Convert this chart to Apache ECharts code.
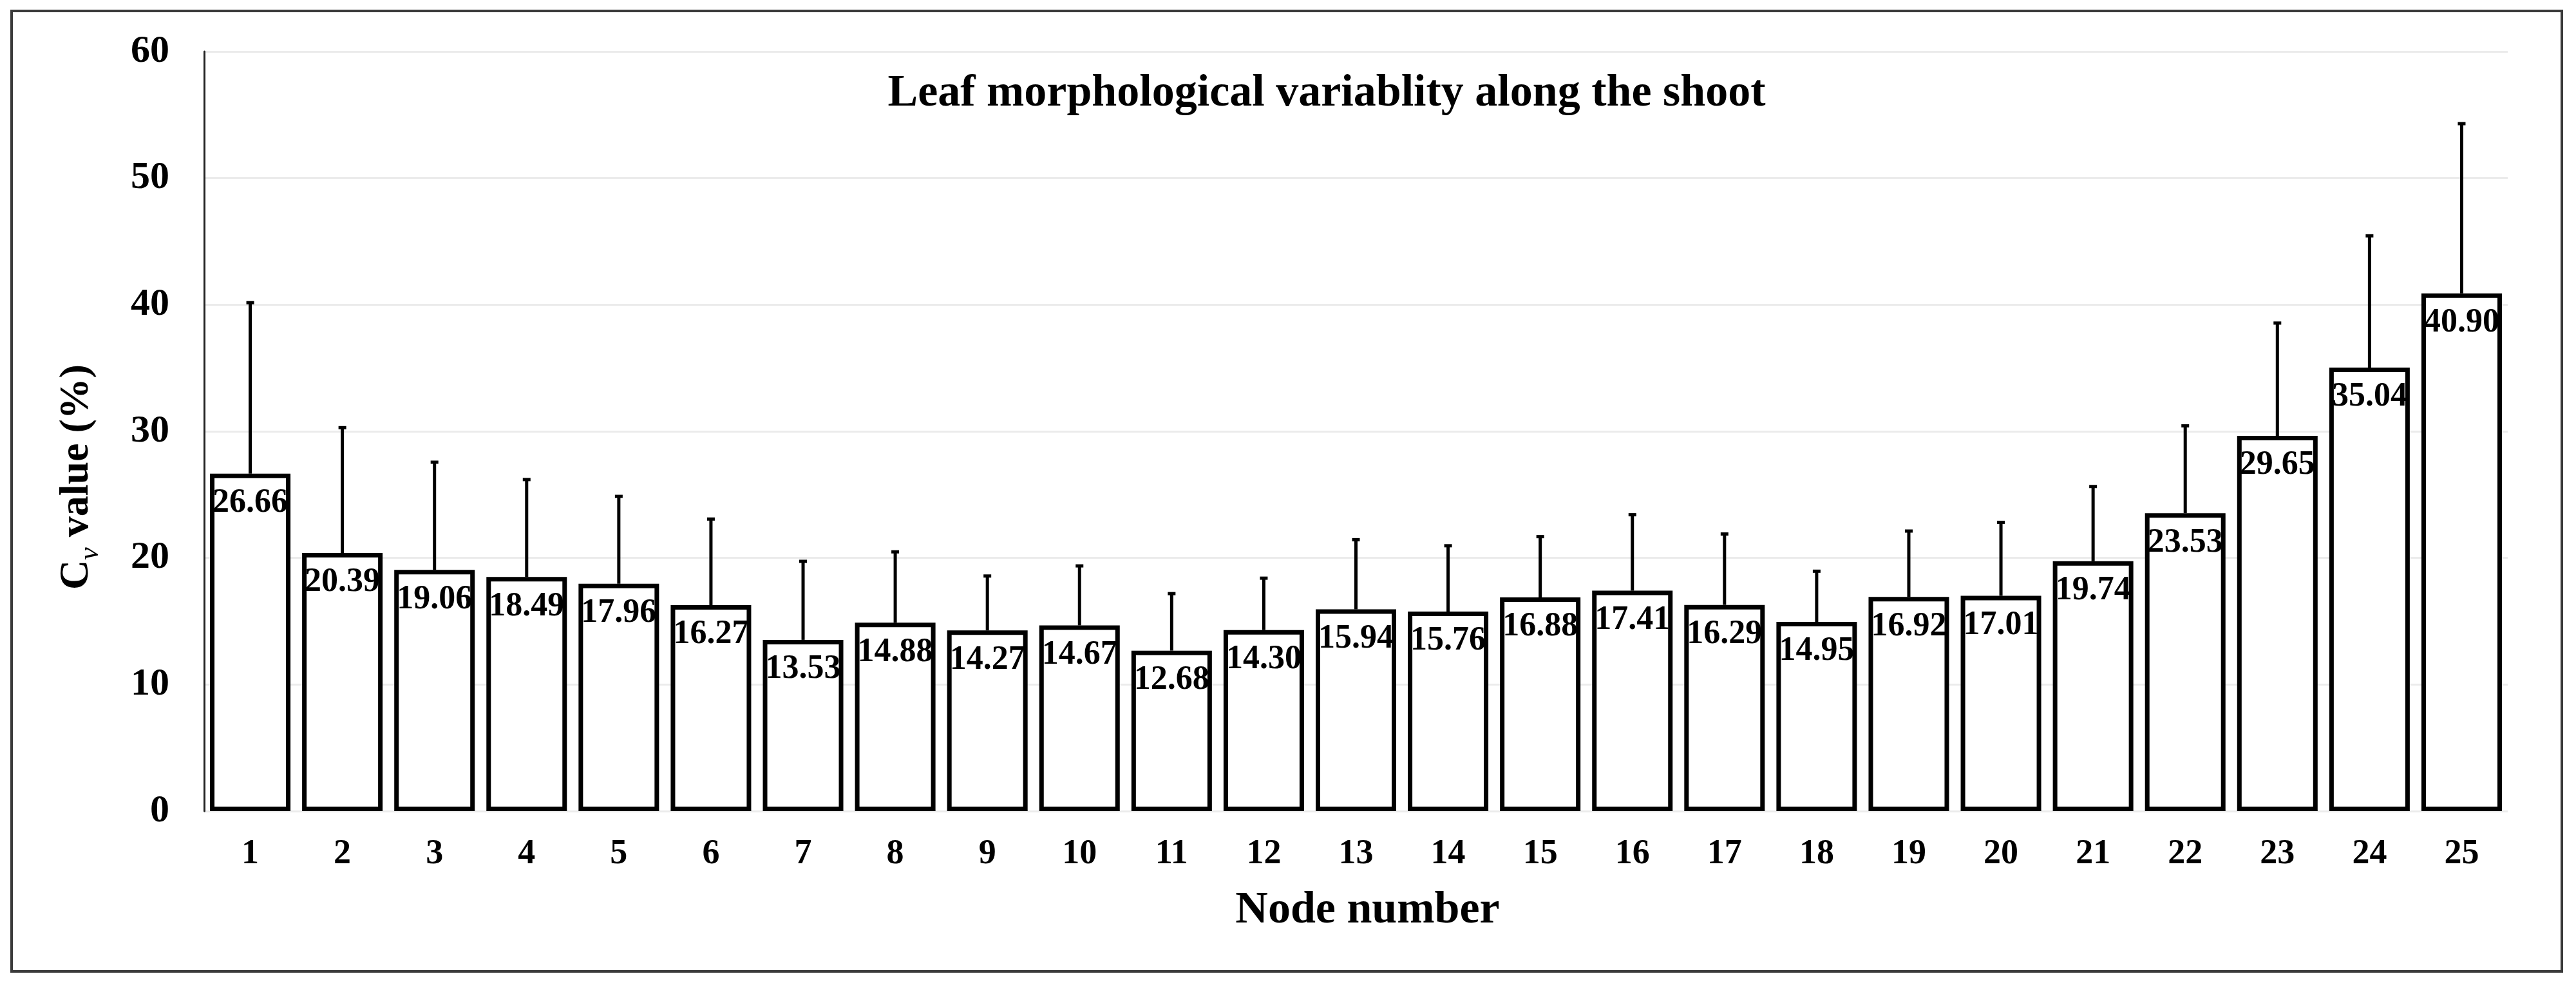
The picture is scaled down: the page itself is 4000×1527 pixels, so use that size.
<!DOCTYPE html>
<html>
<head>
<meta charset="utf-8">
<script src="https://cdn.jsdelivr.net/npm/echarts@6/dist/echarts.min.js"></script>
<style>
  html, body { margin: 0; padding: 0; background: #fff; }
  #chart { width: 4000px; height: 1527px; }
</style>
</head>
<body>
<div id="chart"></div>
<script>
// ---- data ----
const nodes = ['1','2','3','4','5','6','7','8','9','10','11','12','13','14','15','16','17','18','19','20','21','22','23','24','25'];
const cvValues = [26.66, 20.39, 19.06, 18.49, 17.96, 16.27, 13.53, 14.88, 14.27, 14.67, 12.68, 14.30, 15.94, 15.76, 16.88, 17.41, 16.29, 14.95, 16.92, 17.01, 19.74, 23.53, 29.65, 35.04, 40.90];
const cvSD = [13.5, 9.9, 8.5, 7.7, 6.9, 6.8, 6.2, 5.6, 4.3, 4.7, 4.5, 4.1, 5.5, 5.2, 4.8, 6.0, 5.6, 4.0, 5.2, 5.8, 5.9, 6.9, 8.9, 10.4, 13.4];
const yTicks = { min: 0, max: 60, interval: 10 };
const titleText = 'Leaf morphological variablity along the shoot';
const xName = 'Node number';

const FONT = "'Liberation Serif', 'Times New Roman', serif";

const errData = nodes.map((n, i) => [i, cvValues[i], cvValues[i] + cvSD[i]]);

const chart = echarts.init(document.getElementById('chart'), null, { renderer: 'canvas' });

chart.setOption({
  backgroundColor: '#ffffff',
  animation: false,
  grid: { left: 317, right: 106, top: 80, bottom: 267, containLabel: false },
  graphic: [
    {
      type: 'rect',
      shape: { x: 18, y: 17, width: 3960, height: 1492 },
      style: { fill: 'none', stroke: '#3a3a3a', lineWidth: 4 },
      z: 0
    },
    {
      type: 'text',
      x: 2060, y: 146,
      style: {
        text: titleText,
        fontFamily: FONT, fontWeight: 'bold', fontSize: 70,
        fill: '#000', align: 'center', verticalAlign: 'middle'
      }
    }
  ],
  xAxis: {
    type: 'category',
    data: nodes,
    name: xName,
    nameLocation: 'middle',
    nameGap: 120,
    nameTextStyle: { fontFamily: FONT, fontWeight: 'bold', fontSize: 70, color: '#000', padding: [0, 0, 0, 36] },
    axisLine: { show: false },
    axisTick: { show: false },
    axisLabel: { fontFamily: FONT, fontWeight: 'bold', fontSize: 54, color: '#000', margin: 40 },
    splitLine: { show: false }
  },
  yAxis: {
    type: 'value',
    min: yTicks.min, max: yTicks.max, interval: yTicks.interval,
    name: '{c|C}{v|v}{c| value (%)}',
    nameLocation: 'middle',
    nameGap: 155,
    nameTextStyle: {
      fontFamily: FONT, fontWeight: 'bold', fontSize: 64, color: '#000',
      padding: [0, 142, 0, 0],
      rich: {
        c: { fontFamily: FONT, fontWeight: 'bold', fontSize: 64, lineHeight: 64, verticalAlign: 'top', color: '#000' },
        v: { fontFamily: FONT, fontWeight: 'normal', fontStyle: 'italic', fontSize: 44, lineHeight: 75, verticalAlign: 'bottom', color: '#000' }
      }
    },
    axisLine: { show: true, lineStyle: { color: '#222', width: 3 } },
    axisTick: { show: false },
    axisLabel: { fontFamily: FONT, fontWeight: 'bold', fontSize: 60, color: '#000', margin: 54 },
    splitLine: { show: true, lineStyle: { color: '#ebebeb', width: 3 } }
  },
  series: [
    {
      type: 'bar',
      data: cvValues,
      barWidth: 125,
      itemStyle: { color: '#ffffff', borderColor: '#000000', borderWidth: 7 },
      label: {
        show: true,
        position: 'insideTop',
        distance: 20,
        formatter: p => p.value.toFixed(2),
        fontFamily: FONT, fontWeight: 'bold', fontSize: 52, color: '#000'
      },
      z: 2
    },
    {
      type: 'custom',
      data: errData,
      encode: { x: 0, y: [1, 2] },
      renderItem: function (params, api) {
        const base = api.coord([api.value(0), api.value(1)]);
        const top = api.coord([api.value(0), api.value(2)]);
        return {
          type: 'group',
          children: [
            { type: 'line', shape: { x1: base[0], y1: base[1], x2: top[0], y2: top[1] }, style: { stroke: '#000', lineWidth: 5 } },
            { type: 'line', shape: { x1: top[0] - 6, y1: top[1], x2: top[0] + 6, y2: top[1] }, style: { stroke: '#000', lineWidth: 5 } }
          ]
        };
      },
      z: 3
    }
  ]
});
</script>
</body>
</html>
